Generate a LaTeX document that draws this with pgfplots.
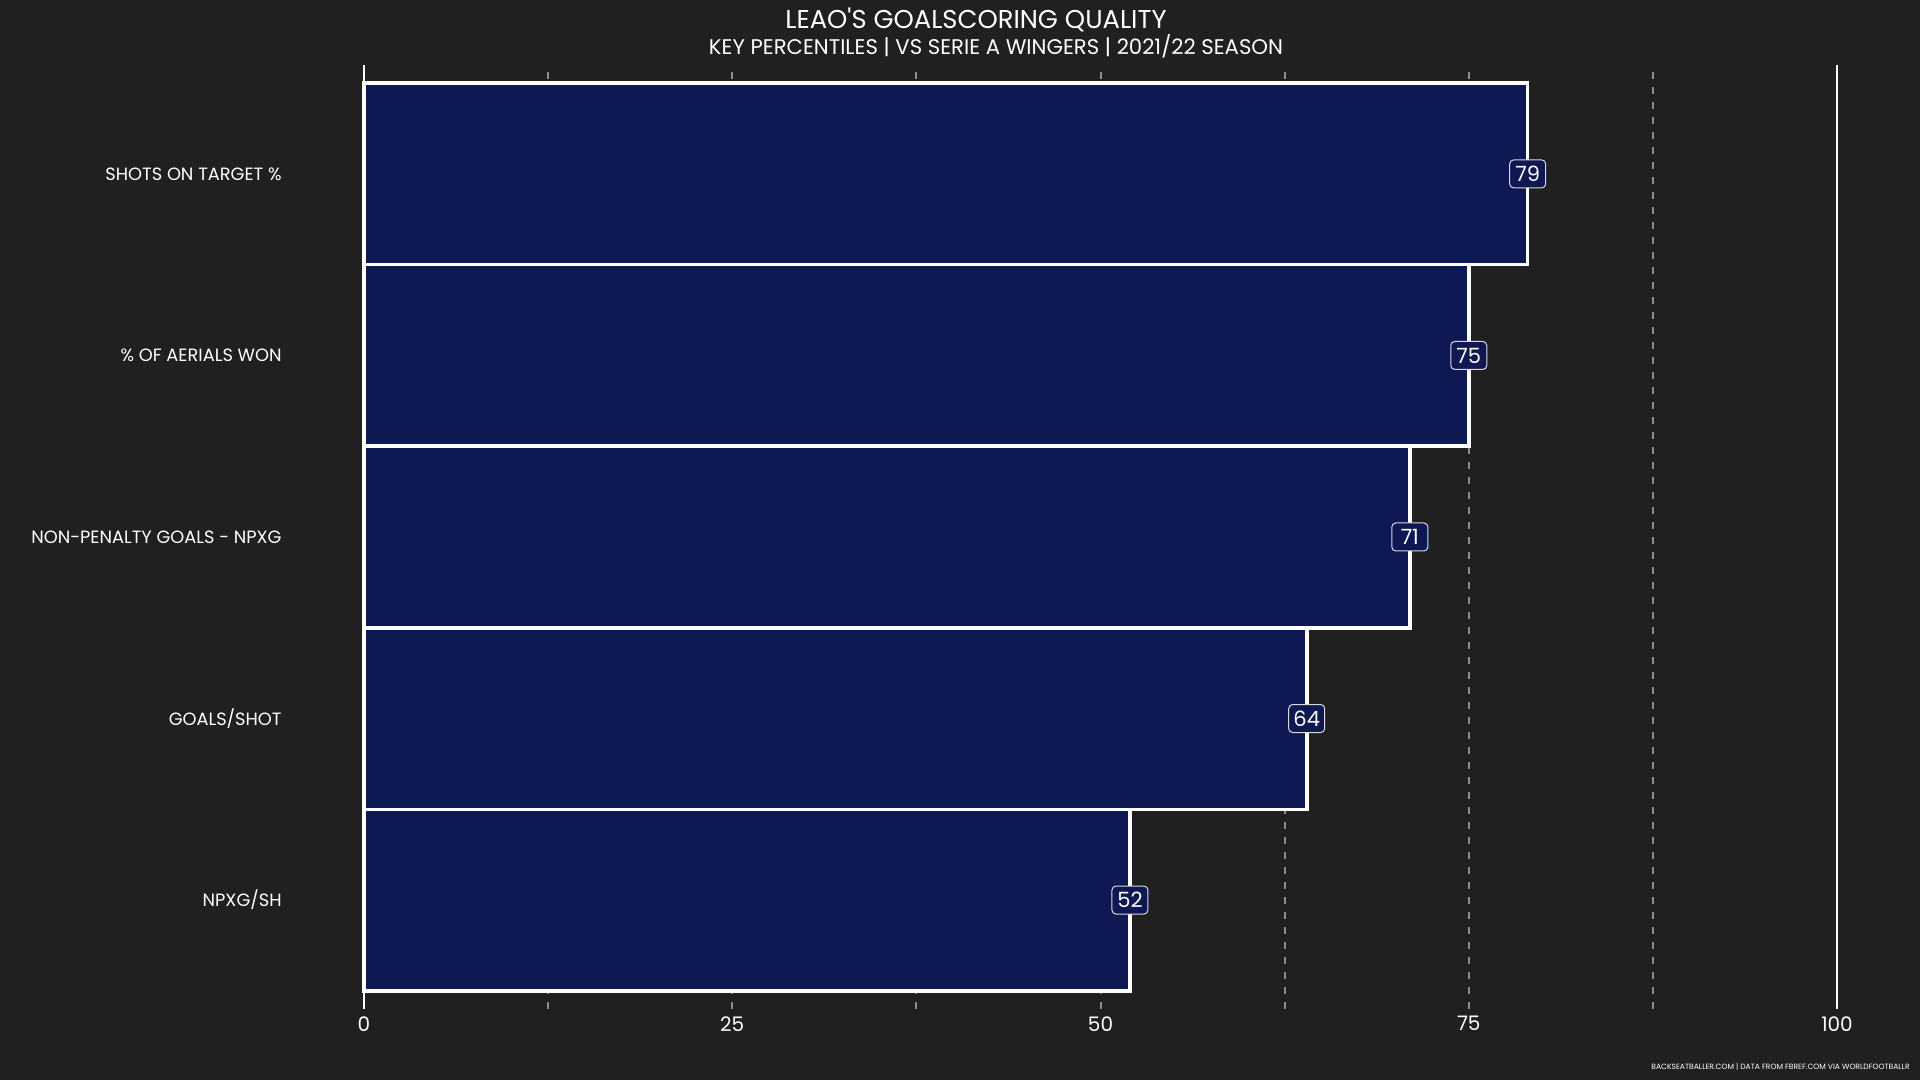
\documentclass[border=0pt]{standalone}
\usepackage{pgfplots}
\pgfplotsset{compat=1.18}
\usepackage{fontspec}
\setmainfont{Poppins}
\definecolor{bgc}{HTML}{202020}
\definecolor{barc}{HTML}{0E1852}
\definecolor{gridc}{HTML}{8C8C8C}
\begin{document}
\begin{tikzpicture}
\fill[bgc] (0,0) rectangle (960pt,540pt);
\node[text=white, font=\fontsize{12.9}{15}\selectfont, inner sep=0pt] at (488pt,530pt) {LEAO\textquotesingle S GOALSCORING QUALITY};
\node[text=white, font=\fontsize{10.6}{12}\selectfont, inner sep=0pt] at (498pt,517pt) {KEY PERCENTILES | VS SERIE A WINGERS | 2021/22 SEASON};
\node[text=white, font=\fontsize{3.8}{4.5}\selectfont, inner sep=0pt, anchor=east] at (955pt,6.5pt) {BACKSEATBALLER.COM | DATA FROM FBREF.COM VIA WORLDFOOTBALLR};
\begin{axis}[
  at={(182pt,35.5pt)}, anchor=south west, scale only axis,
  width=736.5pt, height=472pt,
  xmin=0, xmax=100, ymin=-0.6, ymax=4.6,
  axis line style={draw=none},
  major tick length=0pt, minor tick length=0pt,
  /pgf/number format/assume math mode=true,
  xtick={25,50,75}, minor xtick={12.5,37.5,62.5,87.5},
  extra x ticks={0,100},
  extra x tick style={major grid style={white, solid, line width=1.4pt}},
  xmajorgrids, xminorgrids,
  major grid style={gridc, dash pattern=on 3.5pt off 4pt, line width=1pt},
  minor grid style={gridc, dash pattern=on 3.5pt off 4pt, line width=1pt},
  ytick={0,1,2,3,4},
  yticklabels={NPXG/SH, GOALS/SHOT, NON-PENALTY GOALS - NPXG, \% OF AERIALS WON, SHOTS ON TARGET \%},
  yticklabel style={anchor=east, inner sep=0pt, xshift=-41pt, text=white, font=\fontsize{8.9}{10}\selectfont},
  xticklabel style={anchor=north, inner sep=0pt, yshift=-3.5pt, text=white, font=\fontsize{10}{12}\selectfont},
  xbar, bar width=1, bar shift=0,
  clip=false,
  nodes near coords,
  nodes near coords style={anchor=center, fill=barc, draw=white!85!black, line width=0.5pt, rounded corners=2pt, text=white, font=\fontsize{10.5}{12}\selectfont, minimum width=18pt, minimum height=14pt, inner sep=0pt},
]
\addplot[fill=barc, draw=white, line width=1.8pt] coordinates {(52,0) (64,1) (71,2) (75,3) (79,4)};
\end{axis}
\end{tikzpicture}
\end{document}
